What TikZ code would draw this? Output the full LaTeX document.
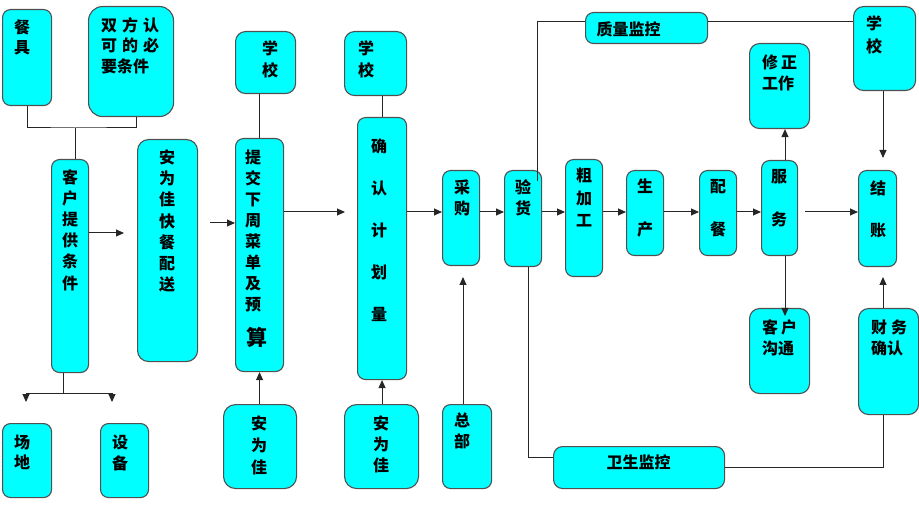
\documentclass[tikz,border=0pt]{standalone}
\usepackage{fontspec}
\setmainfont{Noto Sans CJK SC}
\usetikzlibrary{arrows.meta}
\definecolor{aqua}{RGB}{0,255,255}
\definecolor{edge}{RGB}{80,80,80}
\begin{document}
\begin{tikzpicture}[x=1pt,y=-1pt,
  box/.style={draw=edge,line width=1.1pt,fill=aqua,rounded corners=8pt,inner sep=0pt,anchor=north west},
  txt/.style={inner sep=0pt,align=center,font=\fontsize{16}{21}\selectfont\bfseries},
  ln/.style={draw=black!85,line width=1pt},
  arr/.style={ln,-{Triangle[length=8pt,width=7pt]}}]
\useasboundingbox (0,0) rectangle (919,505);
% boxes
\node[box,minimum width=49pt,minimum height=96pt] (canju) at (2,9) {};
\node[box,rounded corners=14pt,minimum width=85pt,minimum height=110pt] (shuang) at (88,6) {};
\node[box,minimum width=37pt,minimum height=213pt] (kehu) at (51,159) {};
\node[box,rounded corners=11pt,minimum width=60pt,minimum height=222pt] (anwei0) at (137,139) {};
\node[box,minimum width=49pt,minimum height=74pt] (changdi) at (2,423) {};
\node[box,minimum width=48pt,minimum height=74pt] (shebei) at (100,423) {};
\node[box,rounded corners=10pt,minimum width=60pt,minimum height=62pt] (xx1) at (235,31) {};
\node[box,minimum width=48pt,minimum height=233pt] (tijiao) at (235,138) {};
\node[box,rounded corners=12pt,minimum width=73pt,minimum height=84pt] (anwei1) at (223,404) {};
\node[box,rounded corners=10pt,minimum width=62pt,minimum height=64pt] (xx2) at (344,31) {};
\node[box,minimum width=49pt,minimum height=262pt] (queren) at (357,117) {};
\node[box,rounded corners=12pt,minimum width=74pt,minimum height=84pt] (anwei2) at (344,404) {};
\node[box,minimum width=37pt,minimum height=95pt] (caigou) at (442,170) {};
\node[box,minimum width=49pt,minimum height=84pt] (zongbu) at (442,404) {};
\node[box,minimum width=37pt,minimum height=96pt] (yanhuo) at (504,170) {};
\node[box,minimum width=122pt,minimum height=31pt] (zhiliang) at (585,12) {};
\node[box,rounded corners=10pt,minimum width=62pt,minimum height=84pt] (xx3) at (853,6) {};
\node[box,rounded corners=10pt,minimum width=60pt,minimum height=85pt] (xiuzheng) at (749,43) {};
\node[box,minimum width=37pt,minimum height=117pt] (cujia) at (565,159) {};
\node[box,minimum width=37pt,minimum height=85pt] (sheng) at (626,170) {};
\node[box,minimum width=37pt,minimum height=85pt] (peican) at (699,170) {};
\node[box,minimum width=36pt,minimum height=95pt] (fuwu) at (761,160) {};
\node[box,minimum width=38pt,minimum height=96pt] (jiezhang) at (858,170) {};
\node[box,rounded corners=10pt,minimum width=60pt,minimum height=85pt] (goutong) at (749,308) {};
\node[box,rounded corners=10pt,minimum width=60pt,minimum height=106pt] (caiwu) at (858,308) {};
\node[box,rounded corners=9pt,minimum width=171pt,minimum height=42pt] (weisheng) at (553,446) {};
% texts
\node[txt,font=\fontsize{16}{20}\selectfont\bfseries] (t-canju) at (22,37) {餐\\具};
\node[txt,align=left,anchor=west,font=\fontsize{16}{20.5}\selectfont\bfseries] (t-shuang) at (101,45.5) {双\hspace{5pt}方\hspace{5pt}认\\可\hspace{5pt}的\hspace{5pt}必\\要条件};
\node[txt,font=\fontsize{16}{21.2}\selectfont\bfseries] (t-kehu) at (70,230) {客\\户\\提\\供\\条\\件};
\node[txt,font=\fontsize{16}{21.3}\selectfont\bfseries] (t-anwei0) at (167,221) {安\\为\\佳\\快\\餐\\配\\送};
\node[txt,font=\fontsize{16}{20}\selectfont\bfseries] (t-changdi) at (22,452) {场\\地};
\node[txt] (t-shebei) at (120,452.5) {设\\备};
\node[txt,font=\fontsize{16}{22}\selectfont\bfseries] (t-xx1) at (270,59) {学\\校};
\node[txt,font=\fontsize{16}{21.1}\selectfont\bfseries] (t-tijiao) at (253,231) {提\\交\\下\\周\\菜\\单\\及\\预};
\node[txt,font=\fontsize{21}{21}\selectfont\bfseries] (t-suan) at (257,337) {算};
\node[txt,font=\fontsize{16}{22}\selectfont\bfseries] (t-anwei1) at (259,445) {安\\为\\佳};
\node[txt,font=\fontsize{16}{22}\selectfont\bfseries] (t-xx2) at (366,59) {学\\校};
\node[txt,font=\fontsize{16}{42}\selectfont\bfseries] (t-queren) at (379,230) {确\\认\\计\\划\\量};
\node[txt] (t-anwei2) at (381,444) {安\\为\\佳};
\node[txt] (t-caigou) at (462,197.5) {采\\购};
\node[txt] (t-zongbu) at (462,430.5) {总\\部};
\node[txt] (t-yanhuo) at (523,197.5) {验\\货};
\node[txt] (t-zhiliang) at (628.5,29) {质量监控};
\node[txt,font=\fontsize{16}{23}\selectfont\bfseries] (t-xx3) at (874,34.5) {学\\校};
\node[txt,align=left,anchor=west] (t-xiuzheng) at (762,72.5) {修\hspace{3pt}正\\工作};
\node[txt,font=\fontsize{16}{22.5}\selectfont\bfseries] (t-cujia) at (584,197.5) {粗\\加\\工};
\node[txt,font=\fontsize{16}{43}\selectfont\bfseries] (t-sheng) at (645,208.5) {生\\产};
\node[txt,font=\fontsize{16}{43}\selectfont\bfseries] (t-peican) at (718,208.5) {配\\餐};
\node[txt,font=\fontsize{16}{43}\selectfont\bfseries] (t-fuwu) at (779,198.5) {服\\务};
\node[txt,font=\fontsize{16}{42}\selectfont\bfseries] (t-jiezhang) at (878,209) {结\\账};
\node[txt,align=left,anchor=west] (t-goutong) at (762,337.5) {客\hspace{3pt}户\\沟通};
\node[txt,align=left,anchor=west] (t-caiwu) at (871,337.5) {财\hspace{4pt}务\\确认};
\node[txt] (t-weisheng) at (638.5,462) {卫生监控};
% helper coordinates
\coordinate (j1) at (75,128);
\coordinate (j2) at (63,393);
\coordinate (a1) at (26,402);
\coordinate (a2) at (112,402);
\coordinate (e1) at (124,233);
\coordinate (e2) at (210,223);
\coordinate (e3) at (345,212);
\coordinate (row) at (0,212);
\coordinate (e4) at (463,277);
\coordinate (q1) at (537,181);
\coordinate (q2) at (0,22);
\coordinate (e5) at (883,158);
\coordinate (fx) at (785,0);
\coordinate (e6) at (805,212);
\coordinate (e7) at (785,316);
\coordinate (e8) at (883,277);
\coordinate (w1) at (528,457);
\coordinate (w2) at (883,467);
% connectors
\draw[ln] (canju.south) |- (j1) -| ([xshift=5.5pt]shuang.south);
\draw[ln] (j1) -- (j1 |- kehu.north);
\draw[ln] (kehu.south -| j2) -- (j2);
\draw[arr] (j2) -| (a1);
\draw[arr] (j2) -| (a2);
\draw[arr] (kehu.east |- e1) -- (e1);
\draw[arr] (e2) -- (e2 -| tijiao.west);
\draw[ln] (tijiao.north |- xx1.south) -- (tijiao.north);
\draw[arr] (tijiao.south |- anwei1.north) -- (tijiao.south);
\draw[arr] (tijiao.east |- e3) -- (e3);
\draw[ln] (queren.north |- xx2.south) -- (queren.north);
\draw[arr] (queren.south |- anwei2.north) -- (queren.south);
\draw[arr] (queren.east |- row) -- (caigou.west |- row);
\draw[arr] (zongbu.north -| e4) -- (e4);
\draw[arr] (caigou.east |- row) -- (yanhuo.west |- row);
\draw[ln] (q1) |- (zhiliang.west |- q2);
\draw[ln] (zhiliang.east |- q2) -- (xx3.west |- q2);
\draw[arr] (xx3.south -| e5) -- (e5);
\draw[arr] (yanhuo.east |- row) -- (cujia.west |- row);
\draw[arr] (cujia.east |- row) -- (sheng.west |- row);
\draw[arr] (sheng.east |- row) -- (peican.west |- row);
\draw[arr] (peican.east |- row) -- (fuwu.west |- row);
\draw[arr] (fuwu.north -| fx) -- (xiuzheng.south -| fx);
\draw[arr] (e6) -- (jiezhang.west |- e6);
\draw[arr] (fuwu.south -| fx) -- (e7);
\draw[arr] (caiwu.north -| e8) -- (e8);
\draw[ln] (yanhuo.south -| w1) |- (weisheng.west |- w1);
\draw[ln] (weisheng.east |- w2) -| (caiwu.south -| w2);
\end{tikzpicture}
\end{document}
